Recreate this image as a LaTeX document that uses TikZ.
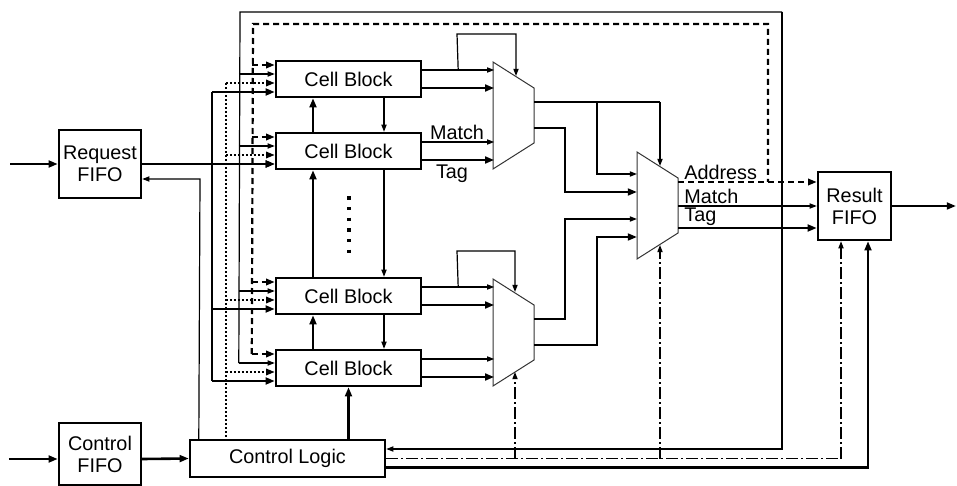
\documentclass[tikz,border=0pt]{standalone}
\usepackage{fontspec}
\setmainfont{Liberation Sans}
\usetikzlibrary{arrows.meta,calc}
\tikzset{
  box/.style     = {rectangle, draw, line width=1.2pt, inner sep=0pt,
                    align=center, font=\fontsize{9.9}{11}\selectfont},
  cellbox/.style = {box, minimum width=72.5pt, minimum height=18pt},
  fifo/.style    = {box, minimum width=41pt, minimum height=34pt},
  thn/.style     = {line width=0.6pt, draw=black},
  thk/.style     = {line width=1.3pt},
  ta/.style      = {thn, -{Triangle[length=3.6pt,width=2.6pt]}},
  ka/.style      = {thk, -{Triangle[length=4.6pt,width=3.4pt]}},
  dsh/.style     = {line width=1.1pt, dash pattern=on 3pt off 2pt},
  dsha/.style    = {dsh, -{Triangle[length=4.4pt,width=3.2pt]}},
  dotln/.style   = {line width=1pt, dash pattern=on 1pt off 1pt},
  dota/.style    = {dotln, -{Triangle[length=4.4pt,width=3.2pt]}},
  dd/.style      = {thn, dash pattern=on 6pt off 1.5pt on 1pt off 1.5pt},
  dda/.style     = {dd, -{Triangle[length=3.6pt,width=2.6pt]}},
  muxln/.style   = {line width=0.5pt, draw=black!80},
  lbl/.style     = {font=\fontsize{9.9}{11}\selectfont, inner sep=1pt},
}
\begin{document}
\begin{tikzpicture}[x=0.5pt,y=-0.5pt]
  \useasboundingbox (0,0) rectangle (957,486);
  % boxes
  \node[fifo] (reqfifo) at (100,164) {Request\\FIFO};
  \node[fifo, minimum height=31pt] (ctlfifo) at (100,454) {Control\\FIFO};
  \node[box, minimum width=97.5pt, minimum height=18.5pt] (ctllogic) at (287.5,458.5) {Control Logic};
  \node[fifo, minimum width=36.5pt] (resfifo) at (854.5,206) {Result\\FIFO};
  \node[cellbox] (cell1) at (348.5,79) {Cell Block};
  \node[cellbox] (cell2) at (348.5,151) {Cell Block};
  \node[cellbox] (cell3) at (348.5,296) {Cell Block};
  \node[cellbox] (cell4) at (348.5,368) {Cell Block};
  % muxes
  \draw[muxln] (493,62) coordinate (muxa) -- ++(41,26) -- ++(0,55) -- ++(-41,26) -- cycle;
  \draw[muxln] (493,279) coordinate (muxb) -- ++(41,26) -- ++(0,55) -- ++(-41,26) -- cycle;
  \draw[muxln] (637,152) coordinate (muxc) -- ++(41,26) -- ++(0,55) -- ++(-41,26) -- cycle;
  \draw[line width=1.6pt, dash pattern=on 1.6pt off 3.7pt] (349,196.5) -- (349,254);

  % cell inputs and outputs
  \foreach \c in {cell1,cell2,cell3,cell4} {
    \draw[dsha] ($(\c.west)+(-23,-14)$) -- ($(\c.west)+(0,-14)$);
    \draw[ta] ($(\c.west)+(-36,-5)$) -- ($(\c.west)+(0,-5)$);
    \draw[dota] ($(\c.west)+(-49,4)$) -- ($(\c.west)+(0,4)$);
    \draw[ka] ($(\c.west)+(-63,13)$) -- ($(\c.west)+(0,13)$);
    \draw[ta] ($(\c.east)+(0,-9)$) -- ($(\c.east)+(72,-9)$);
    \draw[ka] ($(\c.east)+(0,9)$) -- ($(\c.east)+(72,9)$);
  }
  \coordinate (dotbus) at ($(cell1.west)+(-49,4)$);
  \draw[thk] ($(cell1.west)+(-63,13)$) -- ($(cell4.west)+(-63,13)$);
  \draw[dotln] (dotbus) -- (dotbus |- ctllogic.north);
  \draw[thn] ($(cell4.west)+(-36,-5)$) -- (240,12) -- (782,12) coordinate (loopne);
  \draw[ta] (loopne) -- (782,449) -- ($(ctllogic.east)+(0,-9.5)$);
  \draw[dsh] ($(cell4.west)+(-23,-14)$) -- (253,24) -- (768,24) -- (768,182);

  % fifo links
  \draw[ka] (10,164) -- (reqfifo.west);
  \draw[ka] (reqfifo.east) -- ($(cell2.west)+(0,13)$);
  \draw[ta] ($(ctllogic.north west)+(10,0)$) -- (200,179) -- ($(reqfifo.east)+(0,15)$);
  \draw[ka] ($(ctlfifo.west)+(-49,5)$) -- ($(ctlfifo.west)+(0,5)$);
  \draw[ka] ($(ctlfifo.east)+(0,5)$) -- (ctllogic.west);
  \draw[ka] (resfifo.east) -- (956,206);

  % between cells
  \draw[ka] ($(cell2.north)+(-35.5,0)$) -- ($(cell1.south)+(-35.5,0)$);
  \draw[ka] ($(cell3.north)+(-35.5,0)$) -- ($(cell2.south)+(-35.5,0)$);
  \draw[ka] ($(cell4.north)+(-35.5,0)$) -- ($(cell3.south)+(-35.5,0)$);
  \draw[ka] (cell4.south |- ctllogic.north) -- (cell4.south);
  \draw[ta] ($(cell1.south)+(35.5,0)$) -- ($(cell2.north)+(35.5,0)$);
  \draw[ta] ($(cell2.south)+(35.5,0)$) -- ($(cell3.north)+(35.5,0)$);
  \draw[ta] ($(cell3.south)+(35.5,0)$) -- ($(cell4.north)+(35.5,0)$);
  \node[lbl, anchor=south] at (457,142) {Match};
  \node[lbl, anchor=north] at (452,162) {Tag};

  % mux selects and outputs
  \draw[ta] ($(cell1.east)+(36,-9)$) -- (457,34) -- (516,34) -- (516,76);
  \draw[ta] ($(cell3.east)+(36,-9)$) -- (457,251) -- (515,251) -- (515,292);
  \draw[thn] ($(muxa)+(41,40)$) -- (660,102);
  \draw[ta] (660,102) -- (660,166);
  \draw[ta] (597,102) -- (597,174) -- (637,174);
  \draw[ka] ($(muxa)+(41,66)$) -- (565,128) -- (565,192) -- (637,192);
  \draw[ta] ($(muxb)+(41,40)$) -- (565,319) -- (565,219) -- (637,219);
  \draw[ka] ($(muxb)+(41,66)$) -- (597,345) -- (597,237) -- (637,237);

  % final outputs
  \draw[dsha] (678,182) -- ($(resfifo.west)+(0,-24)$);
  \draw[ta] (678,206) -- (resfifo.west);
  \draw[ka] (678,228) -- ($(resfifo.west)+(0,22)$);
  \node[lbl, anchor=south west] at (682,182) {Address};
  \node[lbl, anchor=south west] at (682,206) {Match};
  \node[lbl, anchor=south west] at (682,228) {Tag};

  % control lines
  \draw[dd] (ctllogic.east) -- (841,458.5);
  \draw[dda] (841,458.5) -- ($(resfifo.south)+(-13.5,0)$);
  \draw[dda] (515,458.5) -- (515,372);
  \draw[dda] (660,458.5) -- (660,245);
  \draw[ka] ($(ctllogic.east)+(0,9)$) -- (868,467.5) -- ($(resfifo.south)+(13.5,0)$);
\end{tikzpicture}
\end{document}
